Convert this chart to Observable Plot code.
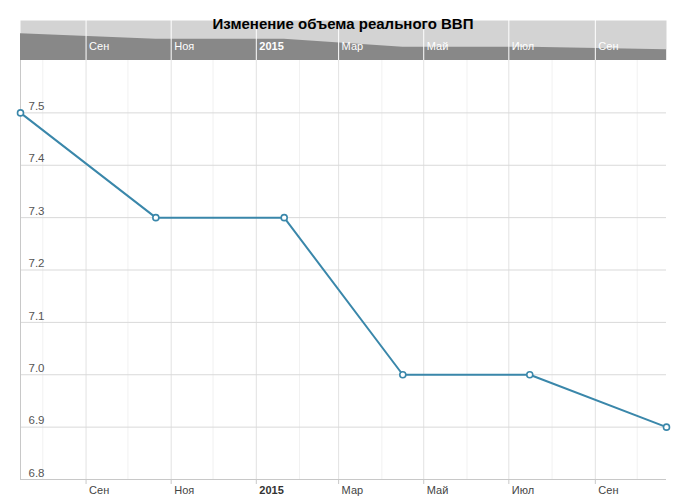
<!DOCTYPE html>
<html>
<head>
<meta charset="utf-8">
<script src="https://cdn.jsdelivr.net/npm/d3@7"></script>
<script src="https://cdn.jsdelivr.net/npm/@observablehq/plot@0.6"></script>
<style>
  html, body { margin: 0; padding: 0; background: #fff; }
  #wrap { position: relative; width: 686px; height: 500px; font-family: "Liberation Sans", Arial, sans-serif; }
  #main, #nav { position: absolute; left: 0; }
  #main { top: 0; }
  #nav { top: 20px; }
  #title { position: absolute; left: 0; top: 16px; width: 686px; text-align: center;
           font: bold 15px/15px "Liberation Sans", Arial, sans-serif; color: #000; }
  svg { display: block; }
</style>
</head>
<body>
<div id="wrap">
  <div id="main"></div>
  <div id="nav"></div>
  <div id="title">Изменение объема реального ВВП</div>
</div>
<script>
// ---- data ----
const dates = ["2014-07-16", "2014-10-21", "2015-01-21", "2015-04-16", "2015-07-16", "2015-10-22"];
const values = [7.5, 7.3, 7.3, 7.0, 7.0, 6.9];
const majorTicks = ["2014-09-01", "2014-11-01", "2015-01-01", "2015-03-01", "2015-05-01", "2015-07-01", "2015-09-01"];
const majorLabels = ["Сен", "Ноя", "2015", "Мар", "Май", "Июл", "Сен"];
const minorTicks = ["2014-08-01", "2014-10-01", "2014-12-01", "2015-02-01", "2015-04-01", "2015-06-01", "2015-08-01", "2015-10-01"];
const yTicks = [6.8, 6.9, 7.0, 7.1, 7.2, 7.3, 7.4, 7.5];
const yDomain = [6.8, 7.6];
const navDomain = [6.5, 8.0];

// ---- build ----
const parse = s => new Date(s + "T00:00:00Z");
const data = dates.map((d, i) => ({date: parse(d), value: values[i]}));
const major = majorTicks.map((d, i) => ({date: parse(d), label: majorLabels[i], bold: majorLabels[i] === "2015"}));
const minor = minorTicks.map(parse);
const xDomain = [data[0].date, data[data.length - 1].date];
const color = "#3a87aa";
const font = "'Liberation Sans', Arial, sans-serif";

const main = Plot.plot({
  width: 686,
  height: 500,
  marginTop: 60,
  marginBottom: 21,
  marginLeft: 20,
  marginRight: 20,
  style: {fontFamily: font, fontSize: "11px", background: "white", overflow: "visible"},
  x: {type: "utc", domain: xDomain, axis: null},
  y: {domain: yDomain, axis: null},
  marks: [
    Plot.ruleX(minor, {stroke: "#f1f1f1", strokeWidth: 1}),
    Plot.ruleX(major, {x: "date", stroke: "#e2e2e2", strokeWidth: 1}),
    Plot.ruleY(yTicks.slice(1), {stroke: "#d9d9d9", strokeWidth: 1}),
    Plot.ruleY([yDomain[0]], {stroke: "#c8c8c8", strokeWidth: 1}),
    Plot.ruleX([xDomain[0]], {stroke: "#c8c8c8", strokeWidth: 1}),
    Plot.axisX(major.map(d => d.date), {tickSize: 5, tickFormat: () => "", stroke: "#c8c8c8"}),
    Plot.text(major.filter(d => !d.bold), {x: "date", text: "label", frameAnchor: "bottom", textAnchor: "start", dx: 3, dy: 14.5, fill: "#444", fontSize: 11}),
    Plot.text(major.filter(d => d.bold), {x: "date", text: "label", frameAnchor: "bottom", textAnchor: "start", dx: 3, dy: 14.5, fill: "#333", fontSize: 11, fontWeight: "bold"}),
    Plot.text(yTicks, {y: d => d, text: d => d.toFixed(1), frameAnchor: "left", textAnchor: "start", dx: 8, dy: -6.5, fill: "#555", fontSize: 11.5}),
    Plot.line(data, {x: "date", y: "value", stroke: color, strokeWidth: 2}),
    Plot.dot(data, {x: "date", y: "value", r: 3, fill: "white", stroke: color, strokeWidth: 1.6})
  ]
});
document.getElementById("main").append(main);

const nav = Plot.plot({
  width: 686,
  height: 40,
  marginTop: 0,
  marginBottom: 0,
  marginLeft: 20,
  marginRight: 20,
  style: {fontFamily: font, fontSize: "11px", background: "transparent"},
  x: {type: "utc", domain: xDomain, axis: null},
  y: {domain: navDomain, axis: null},
  marks: [
    Plot.frame({fill: "#d3d3d3", stroke: null}),
    Plot.areaY(data, {x: "date", y1: navDomain[0], y2: "value", fill: "#888888"}),
    Plot.ruleX(major, {x: "date", stroke: "white", strokeWidth: 1}),
    Plot.text(major.filter(d => !d.bold), {x: "date", text: "label", frameAnchor: "bottom", textAnchor: "start", dx: 3, dy: -10.5, fill: "white", fontSize: 11}),
    Plot.text(major.filter(d => d.bold), {x: "date", text: "label", frameAnchor: "bottom", textAnchor: "start", dx: 3, dy: -10.5, fill: "white", fontSize: 11, fontWeight: "bold"})
  ]
});
document.getElementById("nav").append(nav);
</script>
</body>
</html>
